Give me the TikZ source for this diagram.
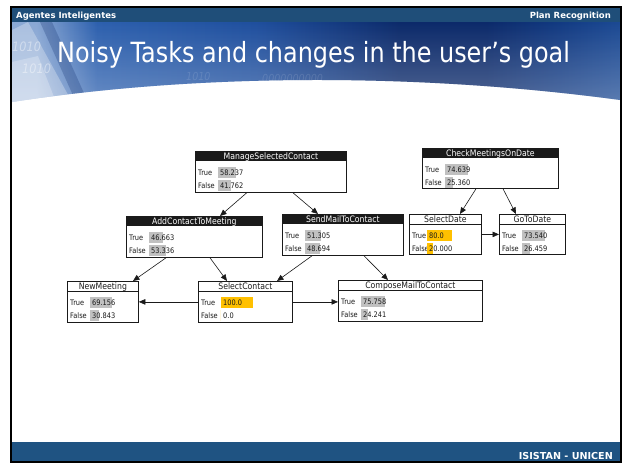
\documentclass[tikz,border=0pt]{standalone}
\usepackage{fontspec}
\setmainfont{DejaVu Sans}
\newfontfamily\tah[FakeStretch=0.87]{DejaVu Sans}
\newfontfamily\tahwide[FakeStretch=0.86]{DejaVu Sans}
\usetikzlibrary{arrows.meta,calc,fadings}

\definecolor{topbar}{HTML}{1F4E79}
\definecolor{footbar}{HTML}{1F5382}
\definecolor{bnA}{HTML}{8AA8D4}
\definecolor{bnB}{HTML}{2D60AE}
\definecolor{bnC}{HTML}{1F4F9E}
\definecolor{bnD}{HTML}{0C2A6A}
\definecolor{bnE}{HTML}{123A82}
\definecolor{bnF}{HTML}{1C4A94}
\definecolor{bargray}{HTML}{C0C0C0}
\definecolor{evid}{HTML}{FFC000}
\definecolor{ink}{HTML}{1A1A1A}

\pgfdeclarehorizontalshading{bannershade}{100bp}{color(0bp)=(bnA); color(25bp)=(bnA); color(27bp)=(bnA); color(32bp)=(bnB); color(45bp)=(bnC); color(57bp)=(bnD); color(64bp)=(bnD); color(70bp)=(bnE); color(75bp)=(bnF); color(100bp)=(bnF)}
\tikzfading[name=bannerglow, top color=transparent!100, bottom color=transparent!72]

\tikzset{
  netbox/.style={draw=ink, line width=0.8pt, fill=white, anchor=north west, inner sep=0pt},
  ttl/.style={font=\tah\fontsize{8.9}{9}\selectfont, inner sep=0pt, anchor=base},
  rowtxt/.style={font=\tah\fontsize{7.6}{8}\selectfont, text=ink, inner sep=0pt, anchor=base west},
  arr/.style={draw=ink, line width=0.6pt, -{Triangle[length=6.5pt,width=5.5pt]}},
  hdrtxt/.style={font=\bfseries\fontsize{8.5}{9}\selectfont, text=white, inner sep=0pt},
  bindigits/.style={text=white, inner sep=0pt, anchor=base west},
}

% box of a network node: name, left, top, right, height
\newcommand{\netframe}[5]{%
  \node[netbox, minimum width={(#4-#2)*1pt}, minimum height={#5*1pt}] (#1) at (#2,#3) {};}
% black title bar
\newcommand{\darktitle}[2]{%
  \fill[ink] (#1.north west) rectangle ($(#1.north east)+(0,10)$);
  \node[ttl, text=white] (#1-t) at ($(#1.north)+(0,8.3)$) {#2};}
% white title bar with a rule below it
\newcommand{\lighttitle}[2]{%
  \draw[ink, line width=0.8pt] ($(#1.north west)+(0,10)$) -- ($(#1.north east)+(0,10)$);
  \node[ttl, text=ink] (#1-t) at ($(#1.north)+(0,8.3)$) {#2};}
% one state row: node, bar top, label, value, percent, bar colour, bar offset
\newcommand{\netrow}[7]{%
  \node[rowtxt] (#1-l#2) at ($(#1.north west)+(3,#2+8.6)$) {#3};
  \fill[#6] ($(#1.north west)+(#7,#2)$) rectangle ($(#1.north west)+(#7+0.32*#5,#2+11)$);
  \node[rowtxt] (#1-v#2) at ($(#1.north west)+(#7+2.5,#2+8.6)$) {#4};}

\begin{document}
\begin{tikzpicture}[x=1pt,y=-1pt]
\useasboundingbox (0,0) rectangle (626,463);
\fill[white] (0,0) rectangle (626,463);

% ---- banner ----
\begin{scope}
  \clip (12,22) -- (620,22) -- (620,100) .. controls (420,73) and (200,73) .. (12,102) -- cycle;
  \shade[shading=bannershade] (12,22) rectangle (620,102);
  \fill[white, path fading=bannerglow] (12,22) rectangle (620,102);
  \fill[white, opacity=0.28] (12,30) -- (28,22) -- (72,102) -- (12,102) -- cycle;
  \fill[white, opacity=0.25] (12,62) -- (38,56) -- (56,102) -- (12,102) -- cycle;
  \fill[bnD, opacity=0.25] (40,22) -- (52,22) -- (88,102) -- (76,102) -- cycle;
  \node[bindigits, font=\tah\itshape\fontsize{13}{13}\selectfont, opacity=0.4] (bin1) at (12,51) {1010};
  \node[bindigits, font=\tah\itshape\fontsize{13}{13}\selectfont, opacity=0.4] (bin2) at (22,73) {1010};
  \node[bindigits, font=\tah\itshape\fontsize{11}{11}\selectfont, opacity=0.12] (bin3) at (186,80) {1010};
  \node[bindigits, font=\tah\itshape\fontsize{11}{11}\selectfont, opacity=0.12] (bin4) at (262,82) {0000000000};
\end{scope}
\node[font=\tahwide\fontsize{27.8}{28}\selectfont, text=white, inner sep=0pt, anchor=base west] (title) at (57,62) {Noisy Tasks and changes in the user’s goal};

% ---- header and footer bars ----
\fill[topbar] (12,8) rectangle (620,22);
\node[hdrtxt, anchor=base west] (hleft) at (16,18.5) {Agentes Inteligentes};
\node[hdrtxt, anchor=base east] (hright) at (611,18.5) {Plan Recognition};
\fill[footbar] (12,442) rectangle (620,461);
\node[hdrtxt, font=\bfseries\fontsize{9.6}{10}\selectfont, anchor=base east] (footer) at (613,459) {ISISTAN - UNICEN};

% ---- network nodes ----
\netframe{msc}{195}{151}{346}{41}
\darktitle{msc}{ManageSelectedContact}
\netrow{msc}{16}{True}{58.237}{58.237}{bargray}{22.5}
\netrow{msc}{29}{False}{41.762}{41.762}{bargray}{22.5}

\netframe{cmod}{422}{148}{558}{40}
\darktitle{cmod}{CheckMeetingsOnDate}
\netrow{cmod}{16}{True}{74.639}{74.639}{bargray}{22.5}
\netrow{cmod}{28.5}{False}{25.360}{25.360}{bargray}{22.5}

\netframe{acm}{126}{216}{262}{41}
\darktitle{acm}{AddContactToMeeting}
\netrow{acm}{16}{True}{46.663}{46.663}{bargray}{22.5}
\netrow{acm}{29}{False}{53.336}{53.336}{bargray}{22.5}

\netframe{smtc}{282}{214}{403}{41}
\darktitle{smtc}{SendMailToContact}
\netrow{smtc}{16}{True}{51.305}{51.305}{bargray}{22.5}
\netrow{smtc}{29}{False}{48.694}{48.694}{bargray}{22.5}

\netframe{sd}{409}{214}{481}{40}
\lighttitle{sd}{SelectDate}
\netrow{sd}{16}{True}{80.0}{80}{evid}{17.5}
\netrow{sd}{28.5}{False}{20.000}{20}{evid}{17.5}

\netframe{gtd}{499}{214}{565}{40}
\lighttitle{gtd}{GoToDate}
\netrow{gtd}{16}{True}{73.540}{73.540}{bargray}{22.5}
\netrow{gtd}{28.5}{False}{26.459}{26.459}{bargray}{22.5}

\netframe{nm}{67}{281}{138}{41}
\lighttitle{nm}{NewMeeting}
\netrow{nm}{16}{True}{69.156}{69.156}{bargray}{22.5}
\netrow{nm}{29}{False}{30.843}{30.843}{bargray}{22.5}

\netframe{sc}{198}{281}{292}{41}
\lighttitle{sc}{SelectContact}
\netrow{sc}{16}{True}{100.0}{100}{evid}{22.5}
\netrow{sc}{29}{False}{0.0}{0}{evid}{22.5}

\netframe{cmtc}{338}{280}{482}{41}
\lighttitle{cmtc}{ComposeMailToContact}
\netrow{cmtc}{16}{True}{75.758}{75.758}{bargray}{22.5}
\netrow{cmtc}{29}{False}{24.241}{24.241}{bargray}{22.5}

% ---- connectors ----
\draw[arr] ($(msc.south west)+(51.7,0)$) -- ($(acm.north west)+(94,0)$);
\draw[arr] ($(msc.south west)+(98,0)$) -- ($(smtc.north west)+(36,0)$);
\draw[arr] ($(cmod.south west)+(54,0)$) -- ($(sd.north west)+(51,0)$);
\draw[arr] ($(cmod.south west)+(81,0)$) -- ($(gtd.north west)+(17,0)$);
\draw[arr] (sd.east) -- (gtd.west);
\draw[arr] ($(acm.south west)+(40,0)$) -- ($(nm.north west)+(66,0)$);
\draw[arr] ($(acm.south west)+(84,0)$) -- ($(sc.north west)+(29,0)$);
\draw[arr] ($(smtc.south west)+(30,0)$) -- ($(sc.north west)+(79,0)$);
\draw[arr] ($(smtc.south west)+(82,0)$) -- ($(cmtc.north west)+(50,0)$);
\draw[arr] (sc.west) -- (nm.east);
\draw[arr] (sc.east) -- (sc.east -| cmtc.west);

% ---- slide frame ----
\draw[line width=2pt] (11,7) rectangle (621,462);
\end{tikzpicture}
\end{document}
